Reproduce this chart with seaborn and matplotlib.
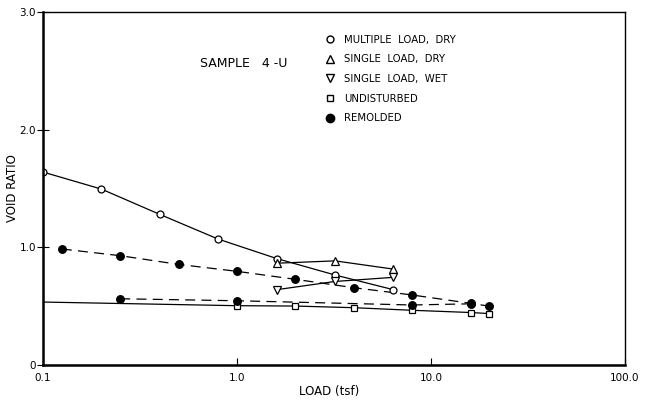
import matplotlib
matplotlib.use("Agg")
import matplotlib.pyplot as plt
from matplotlib.lines import Line2D
import seaborn as sns
import pandas as pd
import numpy as np

# ---- data ----
mult_x = [0.1, 0.2, 0.4, 0.8, 1.6, 3.2, 6.4]
mult_y = [1.64, 1.495, 1.28, 1.07, 0.905, 0.765, 0.64]

sdry_x = [1.6, 3.2, 6.4]
sdry_y = [0.865, 0.885, 0.815]

swet_x = [1.6, 3.2, 6.4]
swet_y = [0.64, 0.71, 0.745]

und_x = [0.1, 1.0, 2.0, 4.0, 8.0, 16.0, 20.0]
und_y = [0.535, 0.504, 0.501, 0.487, 0.465, 0.446, 0.437]

rem1_x = [0.125, 0.25, 0.5, 1.0, 2.0, 4.0, 8.0, 16.0, 20.0]
rem1_y = [0.986, 0.929, 0.855, 0.796, 0.728, 0.657, 0.595, 0.524, 0.50]

rem2_x = [0.25, 1.0, 8.0, 16.0]
rem2_y = [0.563, 0.546, 0.51, 0.52]

legend_labels = ["MULTIPLE  LOAD,  DRY", "SINGLE  LOAD,  DRY", "SINGLE  LOAD,  WET",
                 "UNDISTURBED", "REMOLDED"]
xticks = [0.1, 1.0, 10.0, 100.0]
xtick_labels = ["0.1", "1.0", "10.0", "100.0"]
yticks = [0, 1.0, 2.0, 3.0]
ytick_labels = ["0", "1.0", "2.0", "3.0"]

sns.set_style("ticks", {"text.color": "black", "axes.labelcolor": "black",
                        "xtick.color": "black", "ytick.color": "black",
                        "axes.edgecolor": "black"})
plt.rcParams["font.family"] = ["DejaVu Sans"]

fig = plt.figure(figsize=(6.45, 4.01), dpi=100)
ax = fig.add_axes([43/645, 36/401, 582/645, 353/401])

lw = 0.9
def draw(x, y, marker, fill, ls, ms=5, markevery=None):
    df = pd.DataFrame({"x": x, "y": y})
    sns.lineplot(data=df, x="x", y="y", ax=ax, color="black", linewidth=lw,
                 linestyle=ls, marker=marker, markersize=ms,
                 markerfacecolor=fill, markeredgecolor="black",
                 markeredgewidth=0.9, markevery=markevery, sort=False,
                 estimator=None)

dash = (0, (8, 5))
draw(und_x, und_y, "s", "white", "-", ms=4.5, markevery=list(range(1, len(und_x))))
draw(rem2_x, rem2_y, "o", "black", dash, ms=5.5)
draw(rem1_x, rem1_y, "o", "black", dash, ms=5.5)
draw(mult_x, mult_y, "o", "white", "-", ms=5)
draw(sdry_x, sdry_y, "^", "white", "-", ms=5.5)
draw(swet_x, swet_y, "v", "white", "-", ms=5.5)

ax.set_xscale("log")
ax.set_xlim(0.1, 100)
ax.set_ylim(0, 3.0)
ax.set_xticks(xticks)
ax.set_xticklabels(xtick_labels, fontsize=7.5)
ax.set_yticks(yticks)
ax.set_yticklabels(ytick_labels, fontsize=7.5)
ax.minorticks_off()
ax.tick_params(axis="x", direction="in", length=5, width=0.8, pad=6, colors="black")
ax.tick_params(axis="y", direction="inout", length=8, width=0.8, pad=1, colors="black")

for s in ["left", "bottom"]:
    ax.spines[s].set_linewidth(1.8)
for s in ["top", "right"]:
    ax.spines[s].set_visible(True)
    ax.spines[s].set_linewidth(1.0)

ax.set_xlabel("LOAD (tsf)", fontsize=8.5, color="black")
ax.xaxis.set_label_coords(0.492, -0.058)
ax.set_ylabel("VOID RATIO", fontsize=8.5, color="black")
ax.yaxis.set_label_coords(-0.042, 0.5)

ax.text(0.345, 0.855, "SAMPLE   4 -U", transform=ax.transAxes, fontsize=9,
        ha="center", va="center", color="black")

handles = [
    Line2D([], [], ls="none", marker="o", mfc="white", mec="black", ms=5),
    Line2D([], [], ls="none", marker="^", mfc="white", mec="black", ms=5.5),
    Line2D([], [], ls="none", marker="v", mfc="white", mec="black", ms=5.5),
    Line2D([], [], ls="none", marker="s", mfc="white", mec="black", ms=4.5),
    Line2D([], [], ls="none", marker="o", mfc="black", mec="black", ms=6),
]
leg = ax.legend(handles, legend_labels, loc="upper left", bbox_to_anchor=(0.475, 0.95),
                frameon=False, fontsize=7.3, handlelength=1.0, handletextpad=0.9,
                labelspacing=0.95, borderpad=0)
for t in leg.get_texts():
    t.set_color("black")

fig.savefig("out.png", dpi=100)
